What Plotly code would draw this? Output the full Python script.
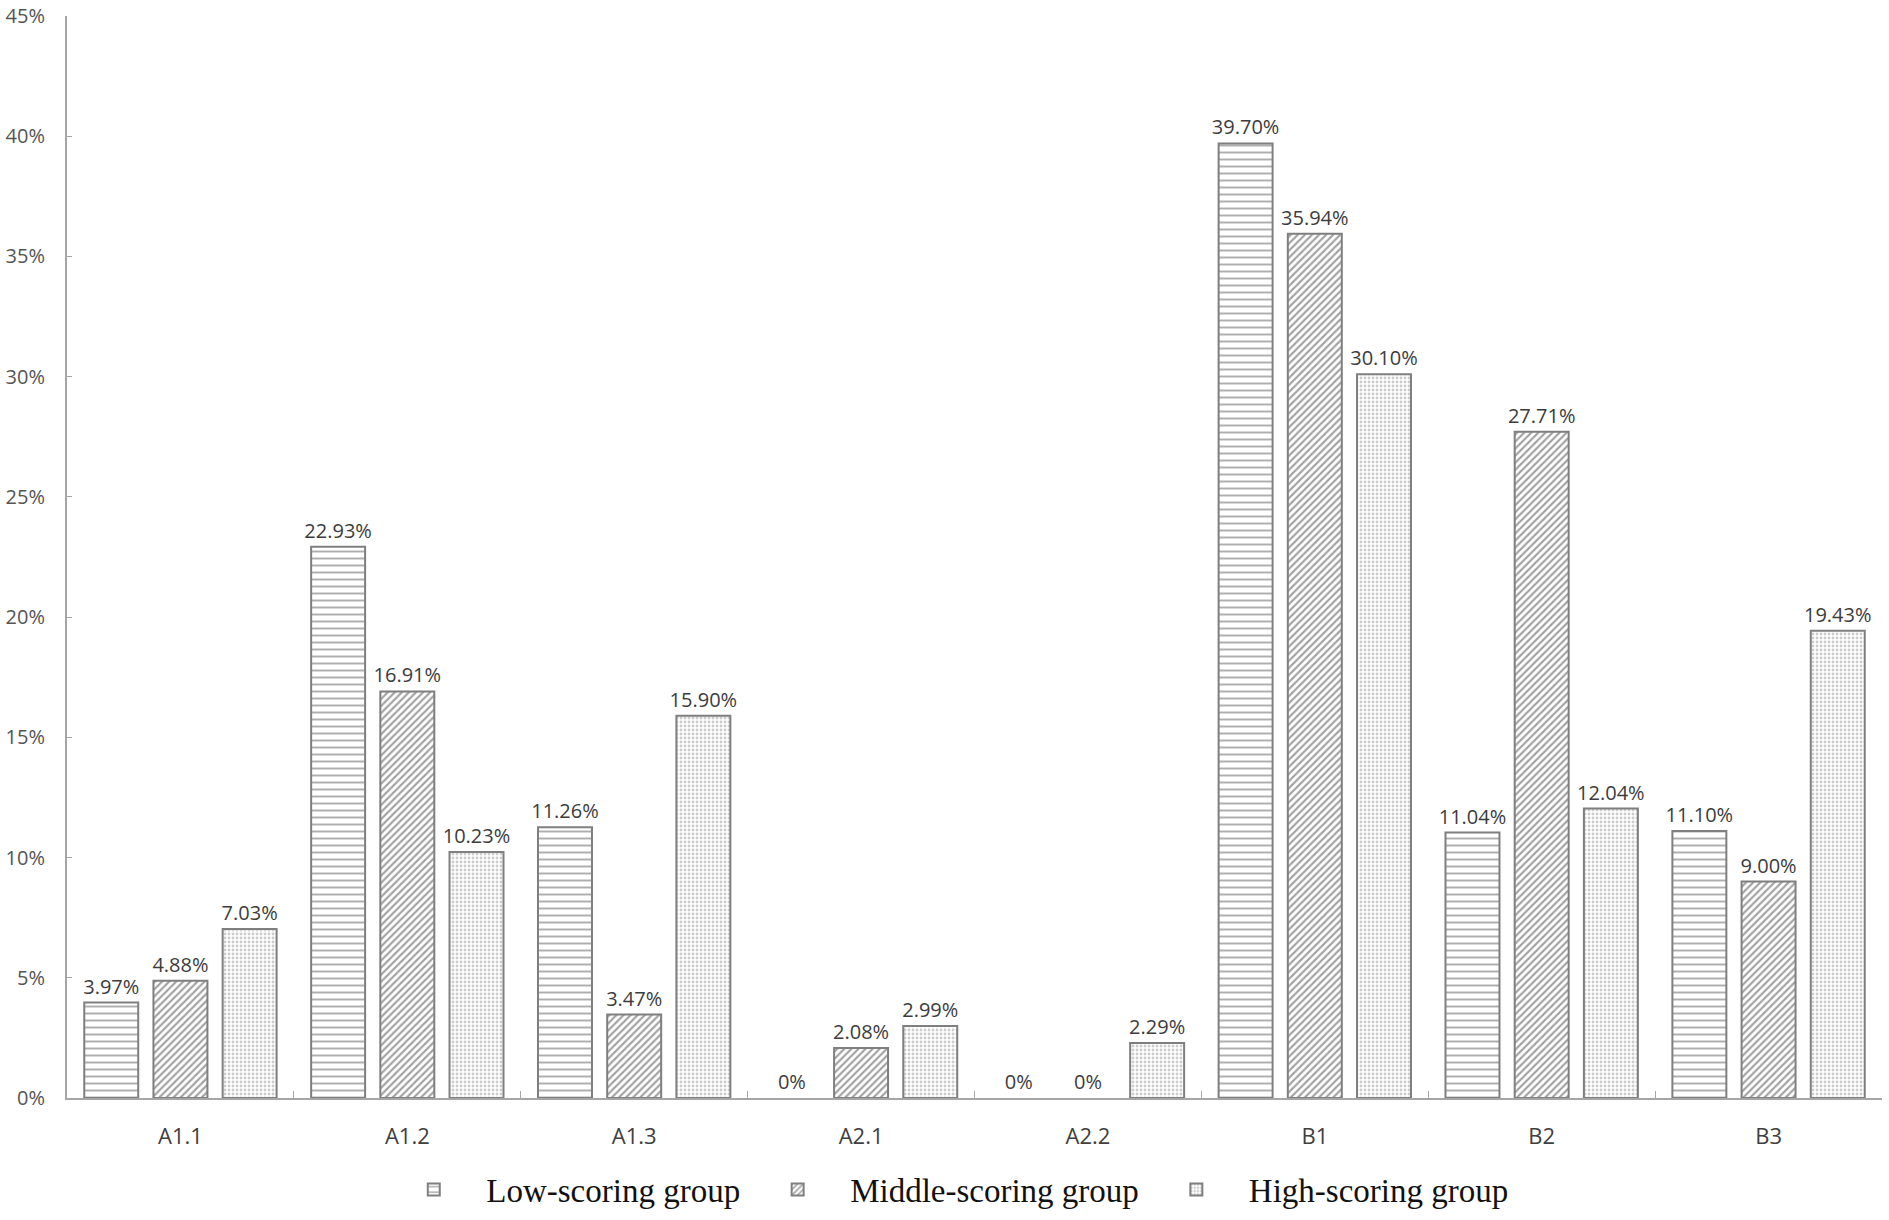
import plotly.graph_objects as go

categories = ["A1.1", "A1.2", "A1.3", "A2.1", "A2.2", "B1", "B2", "B3"]
low_scoring = [3.97, 22.93, 11.26, 0, 0, 39.70, 11.04, 11.10]
middle_scoring = [4.88, 16.91, 3.47, 2.08, 0, 35.94, 27.71, 9.00]
high_scoring = [7.03, 10.23, 15.90, 2.99, 2.29, 30.10, 12.04, 19.43]

y_ticks = [0, 5, 10, 15, 20, 25, 30, 35, 40, 45]
y_ticklabels = [f"{v}%" for v in y_ticks]


def label(v):
    return "0%" if v == 0 else f"{v:.2f}%"


series = [
    ("Low-scoring group", low_scoring, dict(shape="-", size=7, solidity=0.28, fgcolor="#5e5e5e")),
    ("Middle-scoring group", middle_scoring, dict(shape="/", size=5, solidity=0.42, fgcolor="#444444")),
    ("High-scoring group", high_scoring, dict(shape=".", size=4, solidity=0.4, fgcolor="#9a9a9a")),
]

fig = go.Figure()
for name, vals, pat in series:
    fig.add_trace(go.Bar(
        name=name,
        x=categories,
        y=vals,
        text=[label(v) for v in vals],
        textposition="outside",
        cliponaxis=False,
        textfont=dict(family="Open Sans", size=20, color="#3c3c3c"),
        marker=dict(
            color="white",
            line=dict(color="#7f7f7f", width=[0 if v == 0 else 2 for v in vals]),
            pattern=dict(bgcolor="white", **pat),
        ),
    ))

fig.update_layout(
    width=1889,
    height=1220,
    paper_bgcolor="white",
    plot_bgcolor="white",
    barmode="group",
    bargap=0.085,
    bargroupgap=0.22,
    margin=dict(l=67, r=7, t=16, b=122, autoexpand=False),
    font=dict(family="Open Sans", color="#404040"),
    uniformtext=dict(mode="show", minsize=20),
    legend=dict(
        orientation="h",
        x=0.485, xanchor="center",
        yref="container", y=0.025, yanchor="middle",
        font=dict(family="Liberation Serif", size=33, color="#111111"),
        itemwidth=95,
        traceorder="normal",
    ),
    xaxis=dict(
        showline=True, linecolor="#a6a6a6", linewidth=2,
        ticks="inside", tickson="boundaries", ticklen=7, tickcolor="#a6a6a6",
        tickfont=dict(family="Open Sans", size=22, color="#404040"),
        ticklabelstandoff=18,
        showgrid=False,
    ),
    yaxis=dict(
        range=[0, 45],
        tickvals=y_ticks, ticktext=y_ticklabels,
        showline=True, linecolor="#a6a6a6", linewidth=2,
        ticks="inside", ticklen=5, tickcolor="#a6a6a6",
        tickfont=dict(family="Open Sans", size=20, color="#555555"),
        ticklabelstandoff=16,
        showgrid=False, zeroline=False,
    ),
)

# drop the default 8px page margin so the figure fills the window exactly
fig.write_html(
    "out.html",
    config=dict(displayModeBar=False),
    post_script="document.body.style.margin='0';document.body.style.overflow='hidden';",
)
